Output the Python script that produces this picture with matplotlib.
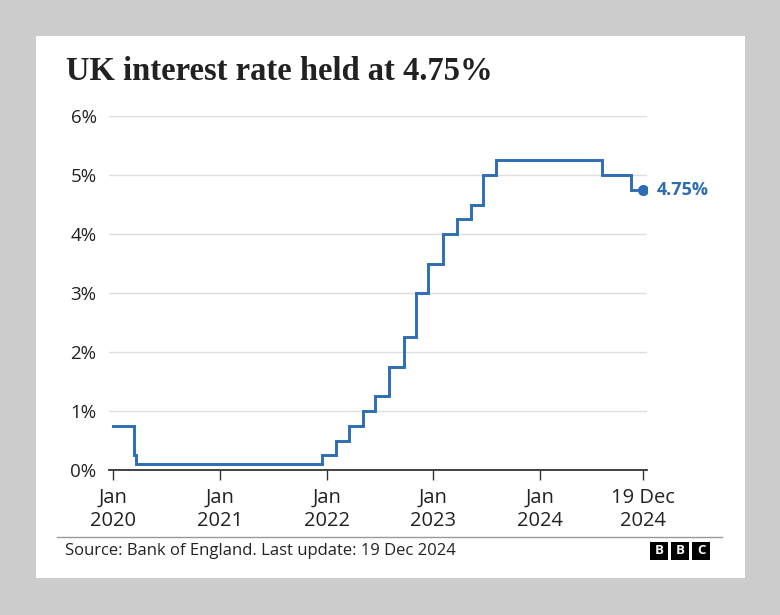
import matplotlib
matplotlib.use("Agg")
import matplotlib.pyplot as plt
import matplotlib.dates as mdates
from matplotlib.patches import Rectangle
import numpy as np
import pandas as pd

# ---- data ----
dates = ["2020-01-01", "2020-03-11", "2020-03-19", "2021-12-16", "2022-02-03",
         "2022-03-17", "2022-05-05", "2022-06-16", "2022-08-04", "2022-09-22",
         "2022-11-03", "2022-12-15", "2023-02-02", "2023-03-23", "2023-05-11",
         "2023-06-22", "2023-08-03", "2024-08-01", "2024-11-07", "2024-12-19"]
rates = [0.75, 0.25, 0.10, 0.25, 0.50, 0.75, 1.00, 1.25, 1.75, 2.25,
         3.00, 3.50, 4.00, 4.25, 4.50, 5.00, 5.25, 5.00, 4.75, 4.75]
xtick_dates = ["2020-01-01", "2021-01-01", "2022-01-01", "2023-01-01", "2024-01-01", "2024-12-19"]
xtick_labels = ["Jan\n2020", "Jan\n2021", "Jan\n2022", "Jan\n2023", "Jan\n2024", "19 Dec\n2024"]
ytick_values = [0, 1, 2, 3, 4, 5, 6]
ytick_labels = ["0%", "1%", "2%", "3%", "4%", "5%", "6%"]
last_label = "4.75%"

title = "UK interest rate held at 4.75%"
source = "Source: Bank of England. Last update: 19 Dec 2024"

BLUE = "#2d6db3"
SANS = ["Open Sans", "DejaVu Sans"]
W, H = 780, 615

fig = plt.figure(figsize=(7.8, 6.15), dpi=100)
fig.patch.set_facecolor("#cccccc")

def fx(px):
    return px / W

def fy(py):
    return 1 - py / H

# white card
fig.patches.append(Rectangle((fx(36), fy(578)), fx(745) - fx(36), fy(36) - fy(578),
                             transform=fig.transFigure, facecolor="white",
                             edgecolor="none", zorder=-5))

ax = fig.add_axes([fx(109), fy(470), fx(647) - fx(109), fy(116) - fy(470)])
ax.set_facecolor("none")
ax.set_zorder(2)

d = pd.to_datetime(dates)
ax.step(d, rates, where="post", color=BLUE, lw=2.1, zorder=3, solid_joinstyle="miter")
ax.plot([d[-1]], [rates[-1]], "o", color=BLUE, markersize=7, zorder=4)
ax.annotate(last_label, xy=(d[-1], rates[-1]), xytext=(10, 0), textcoords="offset points",
            va="center", ha="left", color=BLUE, fontsize=13, fontweight="bold",
            family=SANS, annotation_clip=False)

ax.set_xlim(pd.Timestamp("2019-12-18"), pd.Timestamp("2025-01-02"))
ax.set_ylim(0, 6)
ax.set_yticks(ytick_values)
ax.set_yticklabels(ytick_labels, family=SANS, fontsize=13.5, color="#222222")
ax.yaxis.grid(True, color="#dddddd", lw=1)
ax.set_axisbelow(True)
ax.tick_params(axis="y", length=0, pad=9)

xt = pd.to_datetime(xtick_dates)
ax.set_xticks(xt)
ax.set_xticklabels(xtick_labels, family=SANS, fontsize=14.5, color="#222222", linespacing=1.2)
ax.tick_params(axis="x", length=7, width=1, color="#333333", pad=6)

for s in ["top", "right", "left"]:
    ax.spines[s].set_visible(False)
ax.spines["bottom"].set_color("#333333")
ax.spines["bottom"].set_linewidth(1.3)

# title
fig.text(fx(66), fy(71), title, family=["Liberation Serif", "DejaVu Serif"],
         fontsize=23.5, fontweight="bold", color="#222222", va="center", ha="left", zorder=3)

# footer separator
fig.add_artist(plt.Line2D([fx(57), fx(722)], [fy(537), fy(537)], transform=fig.transFigure,
                          color="#999999", lw=1, zorder=3))
fig.text(fx(65), fy(551), source, family=SANS, fontsize=12, color="#222222",
         va="center", ha="left", zorder=3)

# BBC logo
for i, ch in enumerate("BBC"):
    x0 = 650 + i * 21
    fig.patches.append(Rectangle((fx(x0), fy(560)), fx(18), fy(0) - fy(18),
                                 transform=fig.transFigure, facecolor="black",
                                 edgecolor="none", zorder=3))
    fig.text(fx(x0 + 9), fy(551), ch, family=SANS, fontsize=9.5, fontweight="bold",
             color="white", ha="center", va="center", zorder=4)

fig.savefig("out.png", dpi=100, facecolor=fig.get_facecolor())
